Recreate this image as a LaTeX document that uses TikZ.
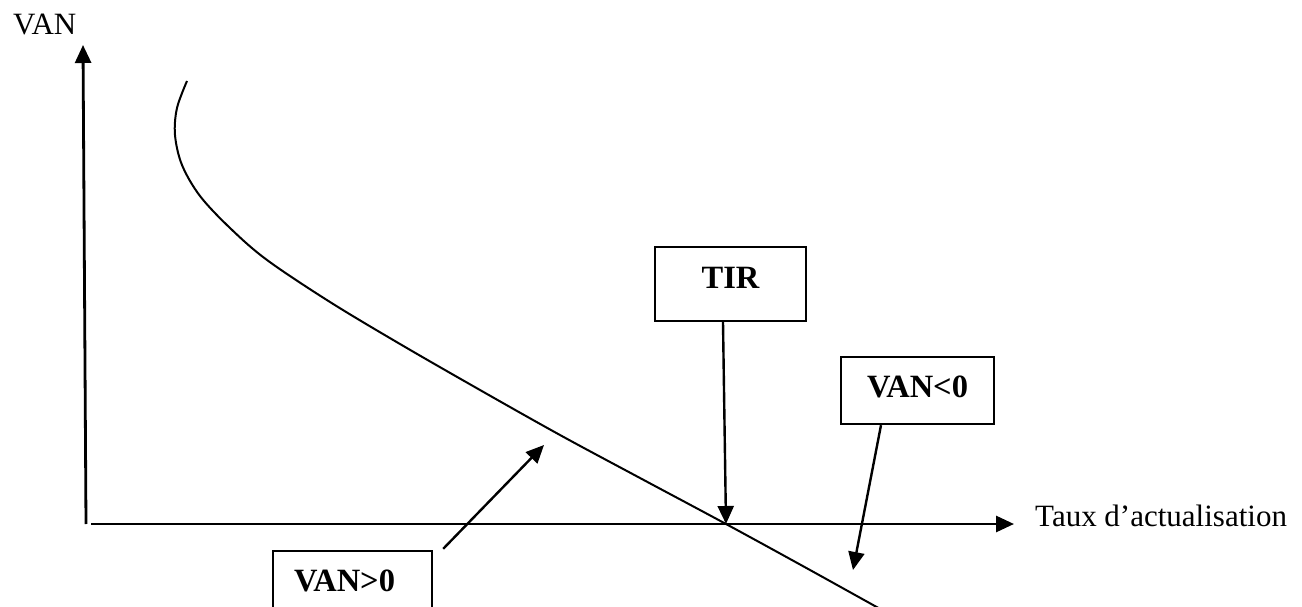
\documentclass[tikz,border=0pt]{standalone}
\usepackage{fontspec}
\setmainfont{Liberation Serif}
\usetikzlibrary{arrows.meta}
\begin{document}
\begin{tikzpicture}[x=1pt,y=-1pt,
  arr/.style={line width=2.4pt,-{Triangle[length=18pt,width=16pt]}},
  axis/.style={line width=2.8pt,-{Triangle[length=18pt,width=16pt]}},
  lbl/.style={font=\fontsize{31}{37}\selectfont, inner sep=0pt},
  boxnode/.style={draw, line width=2.4pt, font=\fontsize{32.5}{38}\selectfont\bfseries, inner sep=0pt, text height=22pt}]
\useasboundingbox (0,0) rectangle (1302,607);
\clip (0,0) rectangle (1302,607);
% axes
\coordinate (ybot) at (86,524);
\coordinate (ytop) at (83,45);
\coordinate (xleft) at (91,524);
\coordinate (xright) at (1014,524);
\draw[axis] (ybot) -- (ytop);
\draw[axis] (xleft) -- (xright);
\node[lbl, anchor=base west] (van) at (13,35) {VAN};
\node[lbl, anchor=base west] (taux) at (1035,526) {Taux d’actualisation};
% curve
\draw[line width=2pt] plot[smooth, tension=0.55] coordinates {(187,81) (177,108) (175,135) (182,165) (200,196) (230,228) (267,260) (330,302) (400,344) (480,390) (560,435) (640,478) (726,524) (810,570) (900,620)};
% boxes
\node[boxnode, minimum width=151pt, minimum height=74pt, text depth=13pt] (tir) at (730.5,284) {TIR};
\node[boxnode, minimum width=153pt, minimum height=67pt, text depth=8pt] (vneg) at (917.5,390.5) {VAN<0};
\node[boxnode, minimum width=159pt, minimum height=67pt, text depth=8pt] (vpos) at (352.5,584.5) {VAN>0\hspace*{16pt}};
% arrow targets
\coordinate (tirpt) at (726,524);
\coordinate (negpt) at (853,570);
\coordinate (pospt) at (544,445);
\draw[arr] ([xshift=-7.5pt]tir.south) -- (tirpt);
\draw[arr] ([xshift=-36.5pt]vneg.south) -- (negpt);
\draw[arr] ([xshift=10pt,yshift=1pt]vpos.north east) -- (pospt);
\end{tikzpicture}
\end{document}
